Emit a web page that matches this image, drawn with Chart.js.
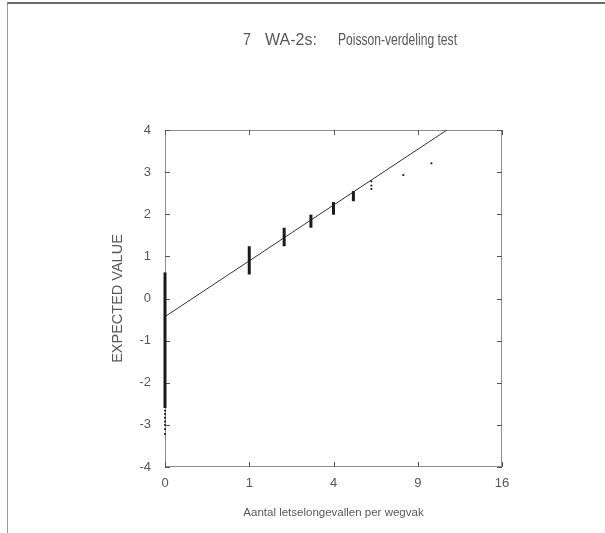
<!DOCTYPE html>
<html>
<head>
<meta charset="utf-8">
<script src="https://cdn.jsdelivr.net/npm/chart.js@4.4.1/dist/chart.umd.min.js"></script>
<style>
  html, body { margin: 0; padding: 0; background: #fff; }
  #wrap { position: relative; width: 605px; height: 533px; }
  #edge { position: absolute; left: 7px; top: 2px; right: 0; bottom: 0;
          border-top: 2px solid #6a6a6a; border-left: 1px solid #9a9a9a; pointer-events: none; }
  canvas { position: absolute; left: 0; top: 0; }
</style>
</head>
<body>
<div id="wrap">
  <canvas id="c" width="605" height="533"></canvas>
  <div id="edge"></div>
</div>
<script>
// ---- data ----
const titleParts = ["7", "WA-2s:", "Poisson-verdeling test"];
const xAxisTitle = "Aantal letselongevallen per wegvak";
const yAxisTitle = "EXPECTED VALUE";
const xTickLabels = [0, 1, 4, 9, 16];
const yTickMin = -4, yTickMax = 4;

// stacked observations per count (drawn as vertical bars: lowest to highest expected value)
const stackCounts = [0, 1, 2, 3, 4, 5];
const stackLow    = [-2.6, 0.57, 1.24, 1.68, 1.99, 2.31];
const stackHigh   = [0.62, 1.24, 1.68, 1.99, 2.29, 2.55];

// isolated observations
const singleCounts = [0, 0, 0, 0, 0, 0, 0, 6, 6, 6, 8, 10];
const singleValues = [-2.66, -2.74, -2.83, -2.92, -3.0, -3.1, -3.22, 2.6, 2.68, 2.78, 2.93, 3.21];

// fitted line (end points)
const fitCounts = [0, 11.2];
const fitValues = [-0.43, 4.0];

// ---- build chart ----
const sq = v => Math.sqrt(v);
const ink = '#1a1a1a';
const textCol = '#585858';
const fontFam = "'Liberation Sans', 'DejaVu Sans', sans-serif";

const datasets = [];
datasets.push({
  type: 'line',
  data: fitCounts.map((c, i) => ({ x: sq(c), y: fitValues[i] })),
  borderColor: '#333', borderWidth: 1, pointRadius: 0, clip: false, order: 2
});
stackCounts.forEach((c, i) => {
  datasets.push({
    type: 'line',
    data: [{ x: sq(c), y: stackLow[i] }, { x: sq(c), y: stackHigh[i] }],
    borderColor: ink, borderWidth: 3, pointRadius: 0, clip: false, order: 1
  });
});
datasets.push({
  type: 'scatter',
  data: singleCounts.map((c, i) => ({ x: sq(c), y: singleValues[i] })),
  pointStyle: 'rect', pointRadius: 1.3, backgroundColor: ink, borderColor: ink, borderWidth: 0,
  clip: false, order: 1
});

const framePlugin = {
  id: 'frame',
  beforeDatasetsDraw(chart) {
    const { ctx, chartArea: a, scales: { x, y } } = chart;
    ctx.save();
    ctx.strokeStyle = '#8c8c8c';
    ctx.lineWidth = 1;
    ctx.strokeRect(a.left + 0.5, a.top + 0.5, a.right - a.left - 1, a.bottom - a.top - 1);
    ctx.strokeStyle = '#555';
    const L = 5;
    x.ticks.forEach(t => {
      const px = Math.round(x.getPixelForValue(t.value)) + 0.5;
      ctx.beginPath();
      ctx.moveTo(px, a.bottom); ctx.lineTo(px, a.bottom - L);
      ctx.moveTo(px, a.top); ctx.lineTo(px, a.top + L);
      ctx.stroke();
    });
    y.ticks.forEach(t => {
      const py = Math.round(y.getPixelForValue(t.value)) + 0.5;
      ctx.beginPath();
      ctx.moveTo(a.left, py); ctx.lineTo(a.left + L, py);
      ctx.moveTo(a.right, py); ctx.lineTo(a.right - L, py);
      ctx.stroke();
    });
    ctx.restore();
  }
};

// heading drawn above the plot, its three parts spaced as in the original
const headingPlugin = {
  id: 'heading',
  afterDraw(chart) {
    const { ctx } = chart;
    ctx.save();
    ctx.fillStyle = textCol;
    ctx.font = "16px " + fontFam;
    ctx.textBaseline = 'middle';
    ctx.textAlign = 'left';
    const starts = [243, 265, 338];
    const widths = [8, 53, 119];
    titleParts.forEach((t, i) => ctx.fillText(t, starts[i], 41, widths[i]));
    ctx.restore();
  }
};

new Chart(document.getElementById('c'), {
  type: 'scatter',
  data: { datasets },
  plugins: [framePlugin, headingPlugin],
  options: {
    responsive: false,
    animation: false,
    layout: { padding: { left: 0, right: 103, top: 130, bottom: 0 } },
    plugins: {
      legend: { display: false },
      tooltip: { enabled: false },
      title: { display: false }
    },
    scales: {
      x: {
        type: 'linear', min: 0, max: sq(xTickLabels[xTickLabels.length - 1]),
        afterBuildTicks: s => { s.ticks = xTickLabels.map(v => ({ value: sq(v) })); },
        afterFit: s => { s.height = 66; },
        grid: { display: false, drawTicks: false },
        border: { display: false },
        ticks: {
          padding: 9, color: textCol, maxRotation: 0,
          font: { family: fontFam, size: 13 },
          callback: v => String(Math.round(v * v))
        },
        title: {
          display: true, text: xAxisTitle, color: textCol,
          font: { family: fontFam, size: 11.5, lineHeight: 1.2 },
          padding: { top: 0, bottom: 13 }
        }
      },
      y: {
        type: 'linear', min: yTickMin, max: yTickMax,
        afterFit: s => { s.width = 165; },
        grid: { display: false, drawTicks: false },
        border: { display: false },
        ticks: {
          stepSize: 1, padding: 14, color: textCol,
          font: { family: fontFam, size: 13 }
        },
        title: {
          display: true, text: yAxisTitle, color: textCol,
          font: { family: fontFam, size: 14.5, lineHeight: 1.2 },
          padding: { top: 109, bottom: 0 }
        }
      }
    }
  }
});
</script>
</body>
</html>
